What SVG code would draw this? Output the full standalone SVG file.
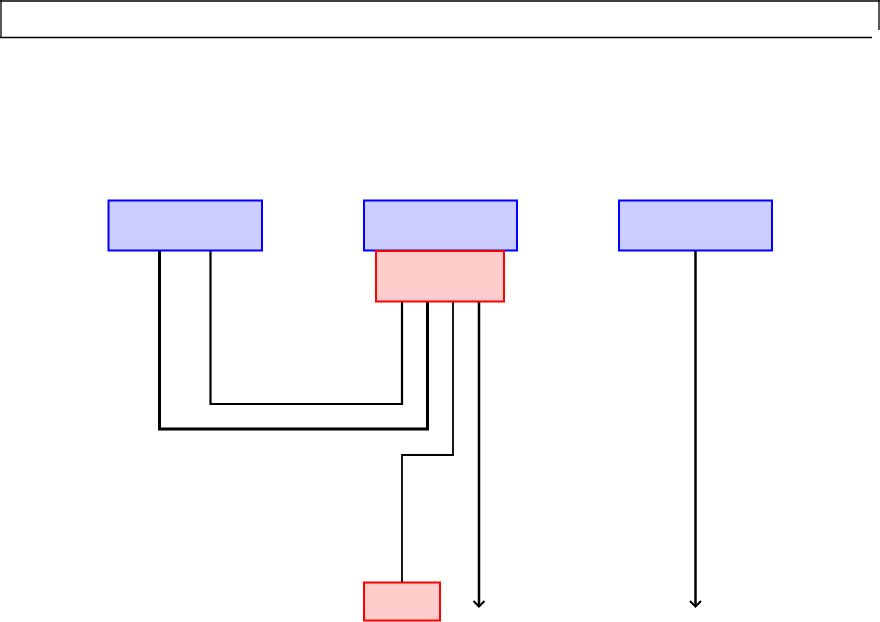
<svg xmlns="http://www.w3.org/2000/svg" width="880" height="622" viewBox="0 0 880 622">
<style>
.blue{fill:#ccccff;stroke:#0000ff;stroke-width:2}
.red{fill:#ffcccc;stroke:#ff0000;stroke-width:2}
.w{fill:none;stroke:#000;stroke-linejoin:miter;stroke-linecap:butt}
.head{fill:none;stroke:#000;stroke-width:2}
</style>
<rect width="880" height="622" fill="#fff"/>
<g id="frame"><path d="M0 1H880 M1 0V38 M0 37.5H872 M879 0V30" fill="none" stroke="#000" stroke-width="1.3"/></g>
<g id="connectors">
<path class="w" d="M159.5 251V429H427.5V302" stroke-width="3"/>
<path class="w" d="M210.5 251V404H402V302" stroke-width="2.2"/>
<path class="w" d="M453 302V455H402V582" stroke-width="1.8"/>
<path class="w" d="M479 302V606" stroke-width="2.5"/>
<path class="head" d="M473.5 601L479 606.5L484.5 601"/>
<path class="w" d="M695.5 251V606" stroke-width="2.5"/>
<path class="head" d="M690 601L695.5 606.5L701 601"/>
</g>
<g id="n1"><rect class="blue" x="108.5" y="200.5" width="153.5" height="50"/></g>
<g id="n2"><rect class="blue" x="364" y="200.5" width="153" height="50"/></g>
<g id="n3"><rect class="red" x="376" y="251" width="128" height="50.5"/></g>
<g id="n4"><rect class="blue" x="619" y="200.5" width="153" height="50"/></g>
<g id="n5"><rect class="red" x="364" y="582.5" width="76" height="38"/></g>
</svg>
